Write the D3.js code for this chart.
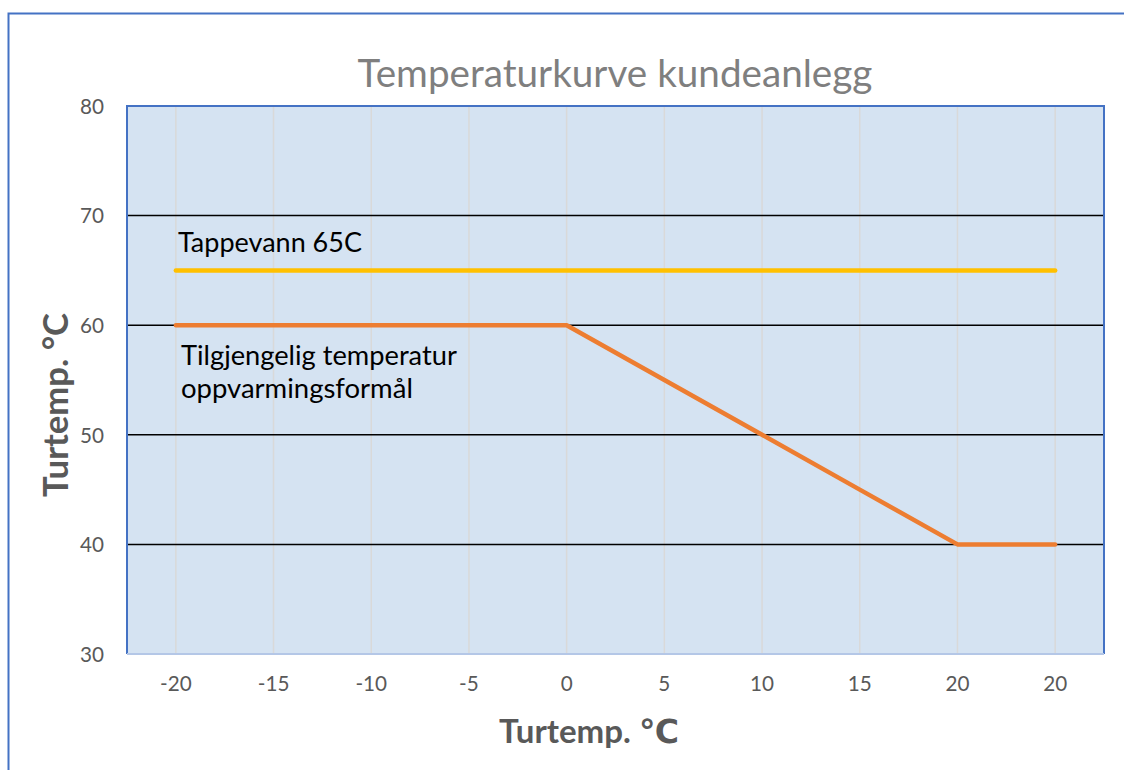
<!DOCTYPE html>
<html><head><meta charset="utf-8">
<script src="https://cdn.jsdelivr.net/npm/d3@7"></script>
<style>body{margin:0;background:#fff}svg{display:block}</style>
</head><body>
<svg id="c" width="1124" height="770"></svg>
<script>
const categories = ["-20","-15","-10","-5","0","5","10","15","20","20"];
const tappevann = [65,65,65,65,65,65,65,65,65,65];
const tilgjengelig = [60,60,60,60,60,55,50,45,40,40];
const yTicks = [30,40,50,60,70,80];

const svg = d3.select("#c");
const font = "Lato, 'Open Sans', 'DejaVu Sans', sans-serif";
const L=127, R=1104, T=106, B=654;

function fit(sel, w){
  const n = sel.node();
  const cur = +sel.attr("font-size");
  const len = n.getComputedTextLength();
  sel.attr("font-size", cur*w/len);
  return sel;
}

// outer border
svg.append("rect").attr("x",8.5).attr("y",13.5).attr("width",1200).attr("height",1000)
  .attr("fill","none").attr("stroke","#4472C4").attr("stroke-width",2);

const x = d3.scaleBand().domain(d3.range(categories.length)).range([L,R]);
const y = d3.scaleLinear().domain([30,80]).range([B,T]);
const cx = i => x(i)+x.bandwidth()/2;

svg.append("rect").attr("x",L).attr("y",T).attr("width",R-L).attr("height",B-T).attr("fill","#D5E3F2");
svg.append("g").selectAll("line").data(d3.range(categories.length)).join("line")
  .attr("x1",cx).attr("x2",cx).attr("y1",T).attr("y2",B).attr("stroke","#D9D9D9").attr("stroke-width",1.5);
svg.append("g").selectAll("line").data(yTicks.filter(v=>v>30&&v<80)).join("line")
  .attr("x1",L).attr("x2",R).attr("y1",d=>y(d)).attr("y2",d=>y(d)).attr("stroke","#000").attr("stroke-width",1.5);
svg.append("path").attr("d",`M${L},${B}V${T}H${R}V${B}`).attr("fill","none").attr("stroke","#4472C4").attr("stroke-width",2);
svg.append("line").attr("x1",L).attr("x2",R).attr("y1",B).attr("y2",B).attr("stroke","#B4C7E7").attr("stroke-width",2);

const line = d3.line().x((d,i)=>cx(i)).y(d=>y(d));
svg.append("path").datum(tappevann).attr("d",line).attr("fill","none").attr("stroke","#FFC000").attr("stroke-width",4.5).attr("stroke-linecap","round");
svg.append("path").datum(tilgjengelig).attr("d",line).attr("fill","none").attr("stroke","#ED7D31").attr("stroke-width",4.5).attr("stroke-linecap","round").attr("stroke-linejoin","round");

// tick font size fitted so "80" is ~24px wide
const probe = svg.append("text").attr("font-family",font).attr("font-size",20).text("80");
fit(probe,24);
const tickSize = +probe.attr("font-size");
probe.remove();

const yAxis = svg.append("g").attr("transform",`translate(${L},0)`).call(d3.axisLeft(y).tickValues(yTicks).tickSize(0).tickPadding(23));
yAxis.select(".domain").remove();
yAxis.selectAll("text").attr("font-family",font).attr("font-size",tickSize).attr("fill","#595959").attr("dy","0.35em");
const xAxis = svg.append("g").attr("transform",`translate(0,${B})`).call(d3.axisBottom(x).tickFormat(i=>categories[i]).tickSize(0).tickPadding(22));
xAxis.select(".domain").remove();
xAxis.selectAll("text").attr("font-family",font).attr("font-size",tickSize).attr("fill","#595959");

// titles
fit(svg.append("text").attr("x",615).attr("y",87).attr("text-anchor","middle").attr("font-family",font)
  .attr("font-size",32).attr("fill","#7F7F7F").text("Temperaturkurve kundeanlegg"),515);
fit(svg.append("text").attr("x",589).attr("y",743).attr("text-anchor","middle").attr("font-family",font)
  .attr("font-size",28).attr("font-weight","bold").attr("fill","#595959").text("Turtemp. ℃"),180);
fit(svg.append("text").attr("transform","translate(68,405) rotate(-90)").attr("text-anchor","middle").attr("font-family",font)
  .attr("font-size",28).attr("font-weight","bold").attr("fill","#595959").text("Turtemp. °C"),184);

// annotations
fit(svg.append("text").attr("x",178).attr("y",252).attr("font-family",font).attr("font-size",20).attr("fill","#000").text("Tappevann 65C"),184);
fit(svg.append("text").attr("x",181).attr("y",365).attr("font-family",font).attr("font-size",20).attr("fill","#000").text("Tilgjengelig temperatur"),276);
fit(svg.append("text").attr("x",181).attr("y",398).attr("font-family",font).attr("font-size",20).attr("fill","#000").text("oppvarmingsformål"),232);
</script>
</body></html>
